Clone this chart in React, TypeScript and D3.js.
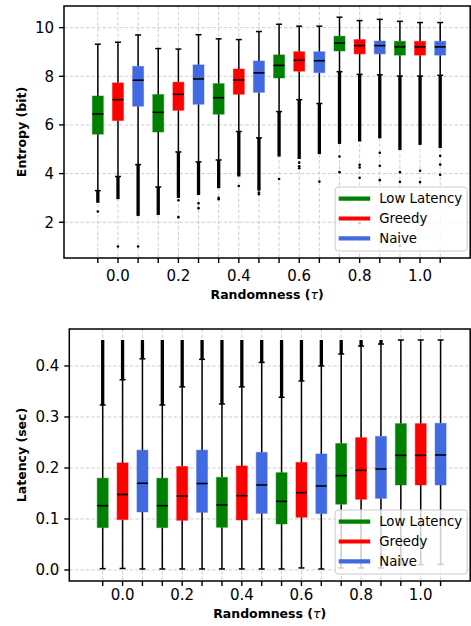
import * as d3 from "d3";

const taus = ["0.0", "0.2", "0.4", "0.6", "0.8", "1.0"];
const methods = ["Low Latency", "Greedy", "Naive"];
const methodColors = ["#008000", "#ff0000", "#4169e1"];

// 18 boxes, ordered tau by tau, then method within each tau
const entropyWhiskerHigh = [9.32, 9.4, 9.7, 9.14, 9.12, 9.71, 9.54, 9.51, 9.84, 10.14, 10.06, 10.06, 10.43, 10.29, 10.34, 10.26, 10.21, 10.21];
const entropyQ3 = [7.19, 7.73, 8.41, 7.25, 7.76, 8.47, 7.7, 8.3, 8.63, 8.88, 9.01, 9.01, 9.65, 9.51, 9.45, 9.44, 9.44, 9.44];
const entropyMedian = [6.45, 7.04, 7.84, 6.52, 7.26, 7.89, 7.12, 7.85, 8.14, 8.45, 8.66, 8.64, 9.37, 9.26, 9.26, 9.21, 9.21, 9.21];
const entropyQ1 = [5.62, 6.18, 6.77, 5.71, 6.6, 6.85, 6.44, 7.26, 7.34, 7.93, 8.21, 8.15, 9.04, 8.92, 8.92, 8.87, 8.87, 8.87];
const entropyWhiskerLow = [3.3, 3.88, 4.37, 3.45, 4.89, 4.48, 4.56, 5.73, 5.47, 6.55, 7.04, 6.88, 8.19, 8.08, 8.06, 8.01, 8.01, 8.04];
// outliers: a dense run next to the whisker cap, then scattered points
const entropyDenseTo = [2.8, 2.95, 2.26, 2.3, 3.0, 3.12, 3.4, 3.88, 3.3, 4.7, 4.6, 4.8, 5.22, 5.32, 5.45, 4.97, 5.18, 5.05];
const entropySparse = [
  [2.44], [1.0], [1.0], [], [2.9, 2.21], [2.78, 2.58],
  [3.0, 2.95], [3.49], [3.22, 3.15], [3.78], [4.45, 4.3, 4.22], [3.67],
  [4.7, 4.06], [4.36, 4.25, 3.83, 1.96], [4.86, 4.32, 3.73], [4.06, 3.66, 1.03], [4.12, 3.65], [4.73, 4.37, 3.95],
];

const latencyWhiskerHigh = [0.3235, 0.373, 0.414, 0.3235, 0.359, 0.413, 0.3255, 0.359, 0.407, 0.3386, 0.3706, 0.4, 0.4235, 0.439, 0.443, 0.451, 0.451, 0.451];
const latencyQ3 = [0.18, 0.21, 0.235, 0.18, 0.203, 0.235, 0.1817, 0.204, 0.2307, 0.1908, 0.211, 0.2275, 0.248, 0.2595, 0.262, 0.287, 0.287, 0.2876];
const latencyMedian = [0.126, 0.148, 0.17, 0.126, 0.145, 0.1695, 0.1275, 0.1457, 0.1667, 0.1346, 0.1516, 0.1647, 0.185, 0.1954, 0.198, 0.2248, 0.2248, 0.2255];
const latencyQ1 = [0.083, 0.0987, 0.1137, 0.083, 0.0974, 0.113, 0.0837, 0.098, 0.111, 0.0902, 0.1033, 0.1105, 0.129, 0.1386, 0.1405, 0.1667, 0.1667, 0.1667];
const latencyWhiskerLow = [0.0026, 0.003, 0.002, 0.002, 0.002, 0.002, 0.002, 0.002, 0.002, 0.002, 0.004, 0.002, 0.004, 0.004, 0.004, 0.0105, 0.0105, 0.011];
const latencyDenseTo = [0.451, 0.451, 0.451, 0.451, 0.451, 0.451, 0.451, 0.451, 0.451, 0.451, 0.451, 0.451, 0.451, 0.451, 0.451, null, null, null];

const entropyTicks = [2, 4, 6, 8, 10];
const latencyTicks = [0.0, 0.1, 0.2, 0.3, 0.4];

const FONT = "DejaVu Sans, Verdana, sans-serif";
const W = 471;
const H = 626;

type Stats = {
  high: number[];
  q3: number[];
  med: number[];
  q1: number[];
  low: number[];
  denseFrom: number[];
  denseTo: (number | null)[];
  sparse: number[][];
};

function Panel(props: {
  left: number;
  right: number;
  top: number;
  bottom: number;
  yDomain: [number, number];
  yTicks: number[];
  fmt: (v: number) => string;
  yLabel: string;
  stats: Stats;
  xTickGap: number;
}) {
  const { left, right, top, bottom, yDomain, yTicks, fmt, yLabel, stats, xTickGap } = props;
  const positions = d3.range(taus.length * methods.length);
  const x = d3.scaleLinear().domain([-1.68, 18.49]).range([left, right]);
  const y = d3.scaleLinear().domain(yDomain).range([bottom, top]);
  const boxW = 11;
  const capW = 6;

  const legW = 132;
  const legH = 64;
  const legX = right - 3 - legW;
  const legY = bottom - 7 - legH;

  return (
    <g>
      {/* grid */}
      {positions.map((p) => (
        <line key={`vg${p}`} x1={x(p)} x2={x(p)} y1={top} y2={bottom}
          stroke="#c8c8c8" strokeWidth={0.9} strokeDasharray="3.5,2" />
      ))}
      {yTicks.map((t) => (
        <line key={`hg${t}`} x1={left} x2={right} y1={y(t)} y2={y(t)}
          stroke="#c8c8c8" strokeWidth={0.9} strokeDasharray="3.5,2" />
      ))}

      {/* boxes */}
      {positions.map((p) => {
        const cx = x(p);
        const color = methodColors[p % 3];
        const dTo = stats.denseTo[p];
        return (
          <g key={`b${p}`}>
            <line x1={cx} x2={cx} y1={y(stats.low[p])} y2={y(stats.q1[p])} stroke="#000" strokeWidth={1.5} />
            <line x1={cx} x2={cx} y1={y(stats.q3[p])} y2={y(stats.high[p])} stroke="#000" strokeWidth={1.5} />
            <line x1={cx - capW / 2} x2={cx + capW / 2} y1={y(stats.low[p])} y2={y(stats.low[p])} stroke="#000" strokeWidth={1.5} />
            <line x1={cx - capW / 2} x2={cx + capW / 2} y1={y(stats.high[p])} y2={y(stats.high[p])} stroke="#000" strokeWidth={1.5} />
            {dTo !== null && (
              <line x1={cx} x2={cx} y1={y(stats.denseFrom[p])} y2={y(dTo)} stroke="#000" strokeWidth={3.3} />
            )}
            {stats.sparse[p].map((v, k) => (
              <circle key={k} cx={cx} cy={y(v)} r={1.3} fill="#000" />
            ))}
            <rect x={cx - boxW / 2} y={y(stats.q3[p])} width={boxW}
              height={y(stats.q1[p]) - y(stats.q3[p])}
              fill={color} stroke={color} strokeOpacity={0.45} strokeWidth={1} />
            <line x1={cx - boxW / 2} x2={cx + boxW / 2} y1={y(stats.med[p])} y2={y(stats.med[p])} stroke="#000" strokeWidth={1.6} />
          </g>
        );
      })}

      {/* legend */}
      <g>
        <rect x={legX} y={legY} width={legW} height={legH} rx={3}
          fill="#fff" fillOpacity={0.8} stroke="#cccccc" strokeWidth={1} />
        {methods.map((m, i) => {
          const ry = legY + 11.7 + i * 19.8;
          return (
            <g key={m}>
              <line x1={legX + 3.5} x2={legX + 35} y1={ry} y2={ry} stroke={methodColors[i]} strokeWidth={4.2} />
              <text x={legX + 44} y={ry} dy="0.36em" fontSize={13.3} fontFamily={FONT} fill="#000">{m}</text>
            </g>
          );
        })}
      </g>

      {/* frame */}
      <rect x={left} y={top} width={right - left} height={bottom - top} fill="none" stroke="#000" strokeWidth={1.5} />

      {/* y axis */}
      {yTicks.map((t) => (
        <g key={`yt${t}`}>
          <line x1={left - 5} x2={left} y1={y(t)} y2={y(t)} stroke="#000" strokeWidth={1.4} />
          <text x={left - 10} y={y(t)} dy="0.36em" textAnchor="end" fontSize={15} fontFamily={FONT} fill="#000">{fmt(t)}</text>
        </g>
      ))}
      <text transform={`translate(${21},${(top + bottom) / 2}) rotate(-90)`} textAnchor="middle" dy="0.36em"
        fontSize={12.5} fontWeight="bold" fontFamily={FONT} fill="#000">{yLabel}</text>

      {/* x axis */}
      {positions.map((p) => (
        <line key={`xt${p}`} x1={x(p)} x2={x(p)} y1={bottom} y2={bottom + 5} stroke="#000" strokeWidth={1.4} />
      ))}
      {taus.map((t, i) => (
        <text key={`xl${t}`} x={x(i * 3 + 1)} y={bottom + xTickGap} textAnchor="middle" fontSize={15} fontFamily={FONT} fill="#000">{t}</text>
      ))}
      <text x={(left + right) / 2} y={bottom + xTickGap + 18} textAnchor="middle" fontSize={12.5} fontWeight="bold" fontFamily={FONT} fill="#000">
        Randomness (<tspan fontWeight="normal" fontStyle="italic">τ</tspan>)
      </text>
    </g>
  );
}

export default function App() {
  const entropyStats: Stats = {
    high: entropyWhiskerHigh,
    q3: entropyQ3,
    med: entropyMedian,
    q1: entropyQ1,
    low: entropyWhiskerLow,
    denseFrom: entropyWhiskerLow,
    denseTo: entropyDenseTo,
    sparse: entropySparse,
  };
  const latencyStats: Stats = {
    high: latencyWhiskerHigh,
    q3: latencyQ3,
    med: latencyMedian,
    q1: latencyQ1,
    low: latencyWhiskerLow,
    denseFrom: latencyWhiskerHigh,
    denseTo: latencyDenseTo,
    sparse: latencyWhiskerHigh.map(() => []),
  };

  return (
    <div style={{ position: "absolute", left: 0, top: 0, background: "#fff" }}>
      <svg width={W} height={H} style={{ display: "block" }}>
        <rect width={W} height={H} fill="#fff" />
        <Panel left={64} right={470.2} top={6} bottom={258}
          yDomain={[0.53, 10.89]} yTicks={entropyTicks} fmt={(v) => String(v)}
          yLabel="Entropy (bit)" stats={entropyStats} xTickGap={23} />
        <Panel left={69.3} right={470.2} top={329} bottom={581}
          yDomain={[-0.0216, 0.4725]} yTicks={latencyTicks} fmt={d3.format(".1f")}
          yLabel="Latency (sec)" stats={latencyStats} xTickGap={19} />
      </svg>
    </div>
  );
}
